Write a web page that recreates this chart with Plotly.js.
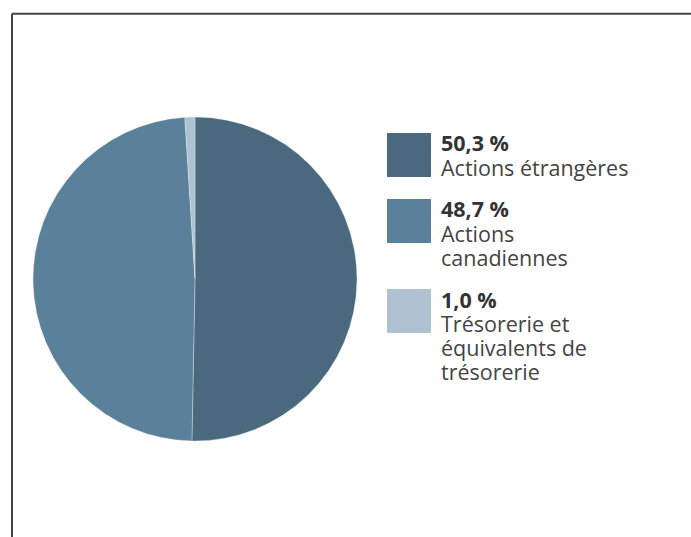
<!DOCTYPE html>
<html>
<head>
<meta charset="utf-8">
<script src="https://cdn.plot.ly/plotly-3.0.1.min.js"></script>
<style>html,body{margin:0;padding:0;background:#fff;}#chart{width:691px;height:537px;}</style>
</head>
<body>
<div id="chart"></div>
<script>
var categories = ["Actions étrangères", "Actions canadiennes", "Trésorerie et équivalents de trésorerie"];
var legendLines = [["Actions étrangères"], ["Actions", "canadiennes"], ["Trésorerie et", "équivalents de", "trésorerie"]];
var values = [50.3, 48.7, 1.0];
var valueLabels = ["50,3 %", "48,7 %", "1,0 %"];
var colors = ["#4a697e", "#5b8099", "#aec2d1"];

var W = 691, H = 537;
function px(x){ return x / W; }
function py(y){ return 1 - y / H; }

var cx = 195, cy = 279, r = 162;
var FONT = "'Open Sans', Lato, sans-serif";
var FS = 21.5;

var shapes = [
  {type:"line", xref:"paper", yref:"paper", x0:px(12), x1:1.01, y0:py(13.7), y1:py(13.7), line:{color:"#444444", width:2}},
  {type:"line", xref:"paper", yref:"paper", x0:px(12), x1:px(12), y0:py(13.7), y1:-0.01, line:{color:"#444444", width:2}}
];
var annotations = [];
var swatchTops = [133, 199, 289];
for (var i = 0; i < categories.length; i++) {
  var t = swatchTops[i];
  shapes.push({type:"rect", xref:"paper", yref:"paper", x0:px(387), x1:px(431), y0:py(t), y1:py(t+44), fillcolor:colors[i], line:{width:0}});
  annotations.push({xref:"paper", yref:"paper", x:px(439), y:py(t-6.5), xanchor:"left", yanchor:"top", showarrow:false,
    text:"<b>"+valueLabels[i]+"</b>", font:{family:FONT, size:FS, color:"#333333"}, align:"left"});
  for (var j = 0; j < legendLines[i].length; j++) {
    annotations.push({xref:"paper", yref:"paper", x:px(439), y:py(t+17.5+24*j), xanchor:"left", yanchor:"top", showarrow:false,
      text:legendLines[i][j], font:{family:FONT, size:FS, color:"#444444"}, align:"left"});
  }
}

var data = [{
  type:"pie",
  labels:categories,
  values:values,
  sort:false,
  direction:"clockwise",
  rotation:0,
  textinfo:"none",
  hoverinfo:"label+percent",
  marker:{colors:colors, line:{color:"rgba(255,255,255,0.5)", width:0.6}},
  domain:{x:[px(cx-r), px(cx+r)], y:[py(cy+r), py(cy-r)]},
  showlegend:false
}];

var layout = {
  width:W, height:H,
  margin:{l:0, r:0, t:0, b:0},
  paper_bgcolor:"#ffffff",
  showlegend:false,
  shapes:shapes,
  annotations:annotations
};
Plotly.newPlot("chart", data, layout, {displayModeBar:false, staticPlot:true});
</script>
</body>
</html>
